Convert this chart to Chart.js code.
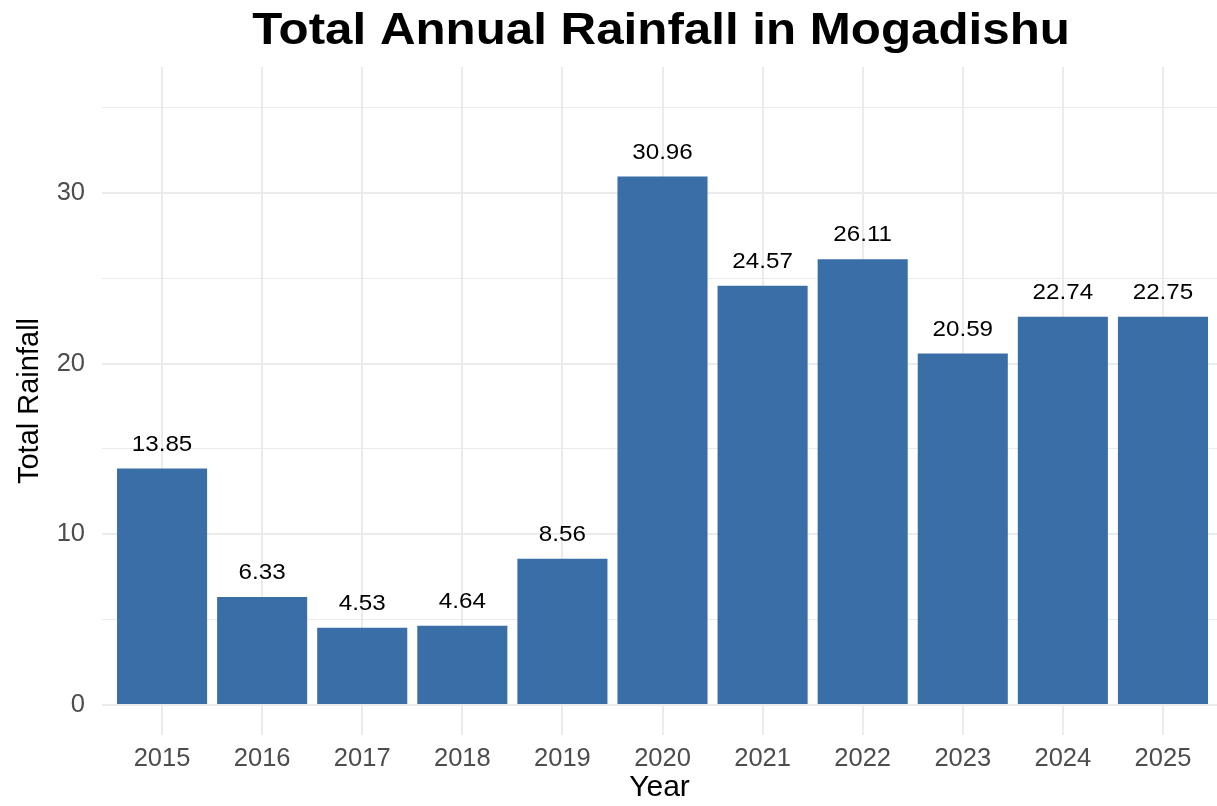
<!DOCTYPE html>
<html>
<head>
<meta charset="utf-8">
<title>Total Annual Rainfall in Mogadishu</title>
<script src="https://cdn.jsdelivr.net/npm/chart.js@4"></script>
<style>
    html, body { margin: 0; padding: 0; background: #fff; overflow: hidden; }
    #wrap { width: 1217px; height: 806px; position: relative; }
</style>
</head>
<body>
<div id="wrap"><canvas id="rainChart"></canvas></div>
<script>
    const years = [2015, 2016, 2017, 2018, 2019, 2020, 2021, 2022, 2023, 2024, 2025];
    const rainfall = [13.85, 6.33, 4.53, 4.64, 8.56, 30.96, 24.57, 26.11, 20.59, 22.74, 22.75];
    const yTicks = [0, 5, 10, 15, 20, 25, 30, 35];
    const titleText = 'Total Annual Rainfall in Mogadishu';

    const FONT = '"Liberation Sans", Arial, Helvetica, sans-serif';
    const gridColor = '#EBEBEB';

    // value labels above bars + main title (drawn by hand so it centres on the panel)
    const labelPlugin = {
        id: 'barLabels',
        afterDatasetsDraw(chart) {
            const { ctx, chartArea } = chart;
            const meta = chart.getDatasetMeta(0);
            ctx.save();
            ctx.fillStyle = '#000';
            ctx.textAlign = 'center';
            ctx.textBaseline = 'alphabetic';
            ctx.font = '22px ' + FONT;
            meta.data.forEach((bar, i) => {
                ctx.save();
                ctx.translate(bar.x, bar.y - 18);
                ctx.scale(1.1, 1);
                ctx.fillText(rainfall[i].toFixed(2), 0, 0);
                ctx.restore();
            });
            ctx.translate((chartArea.left + chartArea.right) / 2 + 1.5, 44);
            ctx.scale(1.12, 1);
            ctx.font = 'bold 44px ' + FONT;
            ctx.fillText(titleText, 0, 0);
            ctx.restore();
        }
    };

    const ctx = document.getElementById('rainChart').getContext('2d');
    new Chart(ctx, {
        type: 'bar',
        data: {
            datasets: [{
                data: years.map((y, i) => ({ x: y, y: rainfall[i] })),
                backgroundColor: '#3A6EA6',
                borderWidth: 0,
                barPercentage: 0.9,
                categoryPercentage: 1
            }]
        },
        options: {
            responsive: true,
            maintainAspectRatio: false,
            animation: false,
            layout: { padding: { top: 67, left: 0, right: 0, bottom: 0 } },
            plugins: {
                legend: { display: false },
                tooltip: { enabled: false }
            },
            scales: {
                x: {
                    type: 'linear',
                    offset: false,
                    min: 2014.4,
                    max: 2025.54,
                    afterBuildTicks: s => { s.ticks = years.map(v => ({ value: v })); },
                    afterFit: s => { s.height = 71; },
                    border: { display: false },
                    grid: { color: gridColor, lineWidth: 2, drawTicks: false, offset: false },
                    ticks: {
                        padding: 9,
                        color: '#4D4D4D',
                        font: { family: FONT, size: 25.5 },
                        callback: v => String(v)
                    },
                    title: {
                        display: true,
                        text: 'Year',
                        color: '#000',
                        font: { family: FONT, size: 30 },
                        padding: { top: 0, bottom: 0 }
                    }
                },
                y: {
                    min: -1.76,
                    max: 37.38,
                    afterBuildTicks: s => { s.ticks = yTicks.map(v => ({ value: v })); },
                    afterFit: s => { s.width = 102; },
                    border: { display: false },
                    grid: {
                        color: gridColor,
                        lineWidth: c => (c.tick && c.tick.value % 10 === 0) ? 2 : 1.1,
                        drawTicks: false
                    },
                    ticks: {
                        padding: 17,
                        color: '#4D4D4D',
                        font: { family: FONT, size: 25.5 },
                        callback: v => v % 10 === 0 ? String(v) : ''
                    },
                    title: {
                        display: true,
                        text: 'Total Rainfall',
                        color: '#000',
                        font: { family: FONT, size: 29 },
                        padding: { top: 13, bottom: 0 }
                    }
                }
            }
        },
        plugins: [labelPlugin]
    });
</script>
</body>
</html>
